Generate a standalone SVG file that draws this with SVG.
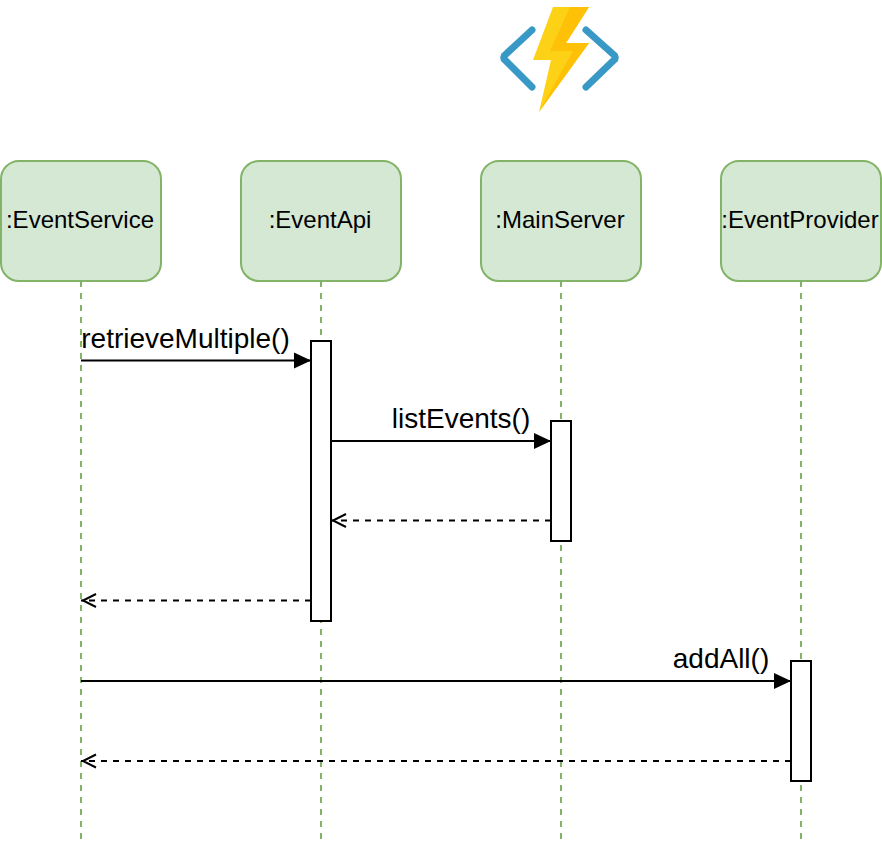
<svg xmlns="http://www.w3.org/2000/svg" width="882" height="842" viewBox="0 0 882 842">
<style>
text{font-family:"Liberation Sans",Arial,sans-serif;fill:#000}
.h{font-size:24px;text-anchor:middle}
.m{font-size:28px;text-anchor:middle}
.box{fill:#d5e8d4;stroke:#82b366;stroke-width:2}
.life{stroke:#82b366;stroke-width:2;stroke-dasharray:6 6;fill:none}
.act{fill:#fff;stroke:#000;stroke-width:2}
.call{stroke:#000;stroke-width:2;fill:none;marker-end:url(#solid)}
.ret{stroke:#000;stroke-width:2;fill:none;stroke-dasharray:6 6;marker-end:url(#open)}
</style>
<defs>
<marker id="solid" markerUnits="userSpaceOnUse" markerWidth="18" markerHeight="18" refX="17" refY="9" orient="auto"><path d="M0 1L17 9L0 17Z" fill="#000"/></marker>
<marker id="open" markerUnits="userSpaceOnUse" markerWidth="20" markerHeight="18" refX="17" refY="9" orient="auto"><path d="M2 2.500L15 9L2 15.500" fill="none" stroke="#000" stroke-width="2"/></marker>
</defs>
<rect width="882" height="842" fill="#fff"/>
<g id="logo">
<path d="M532 30L505 55A3 3 0 0 0 505 60L532 87" fill="none" stroke="#3999c6" stroke-width="7" stroke-linecap="round" stroke-linejoin="round"/>
<path d="M586 30L614 55A3 3 0 0 1 614 60L586 87" fill="none" stroke="#3999c6" stroke-width="7" stroke-linecap="round" stroke-linejoin="round"/>
<path d="M553 7H589L566 43H589L539 112L551 60H533Z" fill="#fcd116"/>
<path d="M570 7H589L566 43H589L539 112L573 51H550Z" fill="#ffc107"/>
</g>
<g id="connectors">
<path class="life" d="M81 281V841"/>
<path class="life" d="M321 281V841"/>
<path class="life" d="M561 281V841"/>
<path class="life" d="M801 281V841"/>
</g>
<g id="eventservice"><rect class="box" x="1" y="161" width="160" height="120" rx="18"/><text class="h" x="80" y="228">:EventService</text></g>
<g id="eventapi"><rect class="box" x="241" y="161" width="160" height="120" rx="18"/><text class="h" x="320" y="228">:EventApi</text></g>
<g id="mainserver"><rect class="box" x="481" y="161" width="160" height="120" rx="18"/><text class="h" x="560" y="228">:MainServer</text></g>
<g id="eventprovider"><rect class="box" x="721" y="161" width="160" height="120" rx="18"/><text class="h" x="800" y="228">:EventProvider</text></g>
<g id="activations">
<rect class="act" x="311" y="341" width="20" height="280"/>
<rect class="act" x="551" y="421" width="20" height="120"/>
<rect class="act" x="791" y="661" width="20" height="120"/>
</g>
<g id="messages">
<path class="call" d="M81 360.500H311"/>
<path class="call" d="M331 441H551"/>
<path class="ret" d="M551 520.500H331"/>
<path class="ret" d="M311 600.500H81"/>
<path class="call" d="M81 681H791"/>
<path class="ret" d="M791 761H81"/>
<text class="m" x="185.500" y="348">retrieveMultiple()</text>
<text class="m" x="461" y="428">listEvents()</text>
<text class="m" x="721" y="668">addAll()</text>
</g>
</svg>
